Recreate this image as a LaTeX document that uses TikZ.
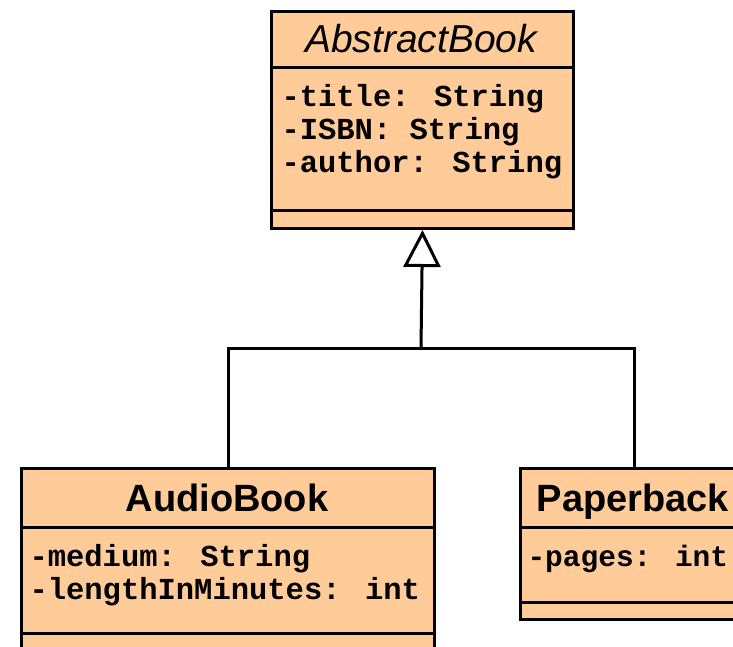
\documentclass[tikz,border=0pt]{standalone}
\usepackage{fontspec}
\usepackage{tikz}
\usetikzlibrary{arrows.meta,calc}
\newfontfamily\umlsans{Liberation Sans}
\newfontfamily\umlmono{Liberation Mono}
\definecolor{peach}{HTML}{FFCC99}
\tikzset{
  umlclass/.style={draw,line width=3pt,fill=peach,inner sep=0pt,anchor=north west},
  classname/.style={anchor=base,inner sep=0pt,font=\umlsans\fontsize{38}{38}\selectfont},
  attr/.style={anchor=base west,inner sep=0pt,font=\umlmono\bfseries\fontsize{30.5}{30.5}\selectfont},
}

\begin{document}
\begin{tikzpicture}[x=1pt,y=-1pt,line width=3pt]
	\useasboundingbox (0,0) rectangle (733,647);
	\clip (0,0) rectangle (733,647);
	% classe abstrata
	\node[umlclass,minimum width=302pt,minimum height=217pt] (abstract) at (270,10) {};
	\draw (270,68) -- (572,68);
	\draw (270,210) -- (572,210);
	\node[classname,font=\umlsans\itshape\fontsize{39}{39}\selectfont] (abstractname) at (421,53) {AbstractBook};
	\node[attr] (abstracttitle) at (280,107) {-title: String};
	\node[attr] (abstractisbn) at (280,140) {-ISBN: String};
	\node[attr] (abstractauthor) at (280,173) {-author: String};
	% AudioBook
	\node[umlclass,minimum width=413pt,minimum height=190pt] (audio) at (20,467) {};
	\draw (20,527) -- (433,527);
	\draw (20,633) -- (433,633);
	\node[classname,font=\umlsans\bfseries\fontsize{38}{38}\selectfont] (audioname) at (227,511) {AudioBook};
	\node[attr] (audiomedium) at (28,566) {-medium: String};
	\node[attr] (audiolength) at (28,599) {-lengthInMinutes: int};
	% Paperback
	\node[umlclass,minimum width=228pt,minimum height=151pt] (paper) at (519,467) {};
	\draw (519,527) -- (747,527);
	\draw (519,602) -- (747,602);
	\node[classname,font=\umlsans\bfseries\fontsize{38}{38}\selectfont] (papername) at (633,511) {Paperback};
	\node[attr,font=\umlmono\bfseries\fontsize{29.5}{29.5}\selectfont] (paperpages) at (526,566) {-pages: int};
	% heranca
	\coordinate (split) at (421,348);
	\draw (audio.north) |- (split) -| (paper.north);
	\draw[-{Triangle[open,length=37pt,width=37pt]}] (split) -- (abstract.south);
\end{tikzpicture}
\end{document}
